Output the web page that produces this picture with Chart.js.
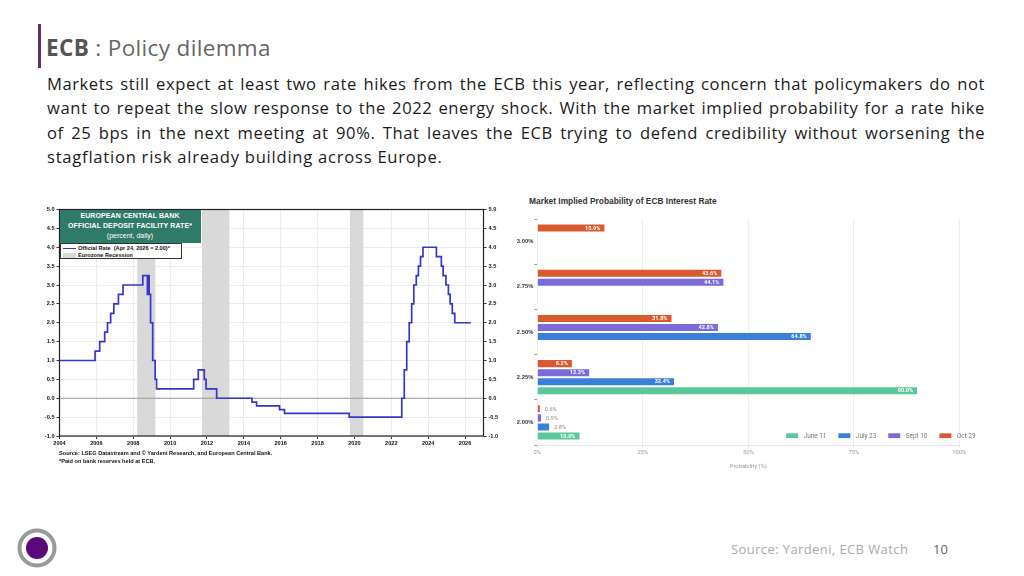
<!DOCTYPE html>
<html><head><meta charset="utf-8">
<script src="https://cdn.jsdelivr.net/npm/chart.js@4.4.1/dist/chart.umd.min.js"></script>
<style>
html,body{margin:0;padding:0;background:#fff;}
body{width:1024px;height:576px;position:relative;overflow:hidden;font-family:'Open Sans',sans-serif;}
.abs{position:absolute;}
#vbar{left:38px;top:24px;width:3px;height:44px;background:#5e2f73;}
#title{left:46px;top:33px;font-size:22.5px;letter-spacing:0.35px;color:#555;white-space:nowrap;line-height:30px;}
#title b{font-weight:700;color:#555;}
#title span{color:#666;font-weight:400;}
#para{left:47px;top:72px;width:938px;font-size:16.6px;letter-spacing:0.55px;color:#1b1b1b;line-height:24.3px;}
#para .j{text-align:justify;text-align-last:justify;}
#para .last{letter-spacing:0.75px;}
#c1wrap{left:30px;top:200px;width:470px;height:254px;}
#c2wrap{left:510px;top:190px;width:480px;height:280px;}
#ecbbox{left:59.5px;top:209.5px;width:141px;height:33px;background:#2f7a68;color:#fff;font-family:'Liberation Sans',Arial,sans-serif;font-size:7px;text-align:center;line-height:10px;padding-top:1.5px;box-sizing:border-box;}
#ecbbox b{font-weight:700;letter-spacing:0.1px;}
#ecbleg{left:60px;top:243.3px;width:122px;height:16px;background:#fff;border:1px solid #333;box-sizing:border-box;font-family:'Liberation Sans',Arial,sans-serif;font-size:5.6px;font-weight:700;color:#111;line-height:7px;padding-top:0.5px;}
#ecbleg .row{position:relative;padding-left:17px;white-space:nowrap;}
#ecbleg .ln{position:absolute;left:2px;top:3px;width:13px;height:1.5px;background:#3636c9;}
#ecbleg .bx{position:absolute;left:2px;top:1px;width:13px;height:5px;background:#d9d9d9;}
#src{left:59px;top:449px;font-family:'Liberation Sans',Arial,sans-serif;font-size:5.6px;font-weight:700;color:#111;line-height:8px;white-space:nowrap;}
#mtitle{left:529px;top:196px;font-family:'Liberation Sans',Arial,sans-serif;font-size:8.4px;font-weight:700;color:#333;white-space:nowrap;}
#footsrc{left:731px;top:539.5px;font-size:13px;letter-spacing:0.4px;color:#aaa;white-space:nowrap;}
#pgnum{left:933px;top:539.5px;font-size:13px;color:#666;}
#logo{left:17px;top:528px;width:40px;height:40px;}
</style>
</head>
<body>
<div id="vbar" class="abs"></div>
<div id="title" class="abs"><b>ECB</b><span> : Policy dilemma</span></div>
<div id="para" class="abs">
<div class="j">Markets still expect at least two rate hikes from the ECB this year, reflecting concern that policymakers do not</div>
<div class="j">want to repeat the slow response to the 2022 energy shock. With the market implied probability for a rate hike</div>
<div class="j">of 25 bps in the next meeting at 90%. That leaves the ECB trying to defend credibility without worsening the</div>
<div class="last">stagflation risk already building across Europe.</div>
</div>

<div id="c1wrap" class="abs"><canvas id="c1"></canvas></div>
<div id="ecbbox" class="abs"><b>EUROPEAN CENTRAL BANK</b><br><b>OFFICIAL DEPOSIT FACILITY RATE*</b><br>(percent, daily)</div>
<div id="ecbleg" class="abs">
<div class="row"><span class="ln"></span>Official Rate&nbsp; (Apr 24, 2026 = 2.00)*</div>
<div class="row"><span class="bx"></span>Eurozone Recession</div>
</div>
<div id="src" class="abs">Source: LSEG Datastream and © Yardeni Research, and European Central Bank.<br>*Paid on bank reserves held at ECB.</div>

<div id="mtitle" class="abs">Market Implied Probability of ECB Interest Rate</div>
<div id="c2wrap" class="abs"><canvas id="c2"></canvas></div>

<svg id="logo" class="abs" viewBox="0 0 40 40"><circle cx="20" cy="20" r="17.5" fill="none" stroke="#9a9a9a" stroke-width="4"/><circle cx="20" cy="20" r="11" fill="#5a0a78"/></svg>
<div id="footsrc" class="abs">Source: Yardeni, ECB Watch</div>
<div id="pgnum" class="abs">10</div>

<script>
// ---------- Left chart data: ECB deposit facility rate (change dates) ----------
const rateDates = ['2004-01-01','2005-12-06','2006-03-08','2006-06-15','2006-08-09','2006-10-11','2006-12-13','2007-03-14','2007-06-13','2008-07-09','2008-10-08','2008-10-09','2008-11-12','2008-12-10','2009-01-21','2009-03-11','2009-04-08','2011-04-13','2011-07-13','2011-11-09','2011-12-14','2012-07-11','2014-06-11','2014-09-10','2015-12-09','2016-03-16','2019-09-18','2022-07-27','2022-09-14','2022-11-02','2022-12-21','2023-02-08','2023-03-22','2023-05-10','2023-06-21','2023-08-02','2023-09-20','2024-06-12','2024-09-18','2024-10-23','2024-12-18','2025-02-05','2025-03-12','2025-04-23','2025-06-11','2026-04-24'];
const rateValues = [1.00,1.25,1.50,1.75,2.00,2.25,2.50,2.75,3.00,3.25,2.75,3.25,2.75,2.00,1.00,0.50,0.25,0.50,0.75,0.50,0.25,0.00,-0.10,-0.20,-0.30,-0.40,-0.50,0.00,0.75,1.50,2.00,2.50,3.00,3.25,3.50,3.75,4.00,3.75,3.50,3.25,3.00,2.75,2.50,2.25,2.00,2.00];
const recessionStarts = ['2008-03-20','2011-09-25','2019-10-05'];
const recessionEnds   = ['2009-03-15','2013-03-20','2020-06-25'];
const yearTicks = [2004,2006,2008,2010,2012,2014,2016,2018,2020,2022,2024,2026];
const rateTicks = [-1.0,-0.5,0.0,0.5,1.0,1.5,2.0,2.5,3.0,3.5,4.0,4.5,5.0];

// ---------- Right chart data: market implied probabilities ----------
const rateLevels = ['3.00%','2.75%','2.50%','2.25%','2.00%'];
const meetings = ['June 11','July 23','Sept 10','Oct 29'];
const probJune11 = [null,null,null,90.0,10.0];
const probJuly23 = [null,null,64.8,32.4,2.8];
const probSept10 = [null,44.1,42.8,12.3,0.9];
const probOct29  = [15.9,43.6,31.8,8.2,0.6];
const probTicks = [0,25,50,75,100];

const meetingColors = ['#5cc79c','#3a7fd8','#7b6ad8','#d95a2e'];

function decYear(s){
  const p = s.split('-').map(Number);
  const a = Date.UTC(p[0],0,1), b = Date.UTC(p[0]+1,0,1);
  return p[0] + (Date.UTC(p[0],p[1]-1,p[2]) - a)/(b-a);
}

const ARIAL = "'Liberation Sans', Arial, sans-serif";

const recessionPlugin = {
  id:'recession',
  beforeDatasetsDraw(chart){
    const {ctx, chartArea:a, scales:{x}} = chart;
    ctx.save();
    ctx.fillStyle = '#d9d9d9';
    recessionStarts.forEach((s,i)=>{
      const x0 = x.getPixelForValue(decYear(s)), x1 = x.getPixelForValue(decYear(recessionEnds[i]));
      ctx.fillRect(x0, a.top, x1-x0, a.bottom-a.top);
    });
    ctx.strokeStyle = '#9a9a9a'; ctx.lineWidth = 1;
    const y0 = chart.scales.y.getPixelForValue(0);
    ctx.beginPath(); ctx.moveTo(a.left,y0); ctx.lineTo(a.right,y0); ctx.stroke();
    ctx.restore();
  },
  afterDraw(chart){
    const {ctx, chartArea:a} = chart;
    ctx.save(); ctx.strokeStyle='#222'; ctx.lineWidth=1.2;
    ctx.strokeRect(a.left, a.top, a.right-a.left, a.bottom-a.top);
    ctx.restore();
  }
};

const yTickOpts = {
  font:{family:ARIAL,size:5.6,weight:'bold'}, color:'#111', padding:2,
  callback:v=>Number(v).toFixed(1), autoSkip:false
};

new Chart(document.getElementById('c1'), {
  type:'line',
  data:{datasets:[{
    label:'Official Rate',
    data: rateDates.map((d,i)=>({x:decYear(d), y:rateValues[i]})),
    stepped:true, borderColor:'#3636c9', borderWidth:1.7, pointRadius:0, fill:false
  }]},
  options:{
    responsive:true, maintainAspectRatio:false, animation:false,
    layout:{padding:{top:9.5,left:0,right:0,bottom:0}},
    plugins:{legend:{display:false}, tooltip:{enabled:false}},
    scales:{
      x:{type:'linear', min:2004, max:2027,
        afterBuildTicks:s=>{s.ticks = yearTicks.map(v=>({value:v}));},
        ticks:{font:{family:ARIAL,size:5.6,weight:'bold'}, color:'#111', padding:1, maxRotation:0, autoSkip:false, callback:v=>String(v)},
        grid:{color:'#ececec', tickLength:3, tickColor:'#333'},
        border:{display:false},
        afterFit:s=>{s.height = 18;}
      },
      y:{position:'left', min:-1, max:5,
        afterBuildTicks:s=>{s.ticks = rateTicks.map(v=>({value:v}));},
        ticks:yTickOpts,
        grid:{color:'#ececec', tickLength:3, tickColor:'#333'},
        border:{display:false},
        afterFit:s=>{s.width = 29.5;}
      },
      y2:{position:'right', min:-1, max:5,
        afterBuildTicks:s=>{s.ticks = rateTicks.map(v=>({value:v}));},
        ticks:yTickOpts,
        grid:{drawOnChartArea:false, tickLength:3, tickColor:'#333'},
        border:{display:false},
        afterFit:s=>{s.width = 16.5;}
      }
    }
  },
  plugins:[recessionPlugin]
});

// ---------- Right chart ----------
const seriesList = [probJune11, probJuly23, probSept10, probOct29];
// drawn top-to-bottom within each group: Oct 29, Sept 10, July 23, June 11
const drawOrder = [3,2,1,0];

const barLabelPlugin = {
  id:'barLabels',
  afterDatasetsDraw(chart){
    const ctx = chart.ctx;
    ctx.save();
    ctx.textBaseline = 'middle';
    chart.data.datasets.forEach((ds,di)=>{
      const meta = chart.getDatasetMeta(di);
      meta.data.forEach((el,i)=>{
        const v = ds.data[i];
        if (v === null || v === undefined) return;
        const txt = v.toFixed(1)+'%';
        if (v >= 5){
          ctx.font = "bold 5.6px 'Roboto', sans-serif";
          ctx.fillStyle = '#ffffff'; ctx.textAlign = 'right';
          ctx.fillText(txt, el.x - 4, el.y + 0.3);
        } else {
          ctx.font = "5.6px 'Roboto', sans-serif";
          ctx.fillStyle = '#8a8a8a'; ctx.textAlign = 'left';
          ctx.fillText(txt, el.x + 5, el.y + 0.3);
        }
      });
    });
    ctx.restore();
  },
  afterDraw(chart){
    const ctx = chart.ctx, a = chart.chartArea;
    ctx.save();
    ctx.font = "6.4px 'Roboto', sans-serif";
    ctx.textBaseline = 'middle'; ctx.textAlign='left';
    const boxW = 12, boxH = 4.8, gapBT = 5.5, gapItem = 12;
    const widths = meetings.map(m=>ctx.measureText(m).width);
    let total = widths.reduce((s,w)=>s+boxW+gapBT+w,0) + gapItem*(meetings.length-1);
    let x = 975.5 - 510 - total;
    const y = a.bottom - 9.3;
    meetings.forEach((m,i)=>{
      ctx.fillStyle = meetingColors[i];
      ctx.fillRect(x, y-boxH/2, boxW, boxH);
      ctx.fillStyle = '#777';
      ctx.fillText(m, x+boxW+gapBT, y+0.3);
      x += boxW+gapBT+widths[i]+gapItem;
    });
    ctx.restore();
  }
};

new Chart(document.getElementById('c2'), {
  type:'bar',
  data:{
    labels: rateLevels,
    datasets: drawOrder.map(k=>({
      label: meetings[k], data: seriesList[k],
      backgroundColor: meetingColors[k], borderWidth:0,
      categoryPercentage:0.8, barPercentage:0.78
    }))
  },
  options:{
    indexAxis:'y', responsive:true, maintainAspectRatio:false, animation:false,
    layout:{padding:{top:29,right:30.7,left:0,bottom:0}},
    plugins:{legend:{display:false}, tooltip:{enabled:false}},
    scales:{
      x:{min:0, max:100,
        afterBuildTicks:s=>{s.ticks = probTicks.map(v=>({value:v}));},
        ticks:{font:{family:"'Roboto', sans-serif",size:5.8}, color:'#9a9a9a', padding:1, callback:v=>v+'%'},
        grid:{color:'#efefef', tickLength:3, tickColor:'#e2e2e2'},
        border:{display:true,color:'#e6e6e6'},
        title:{display:true, text:'Probability (%)', font:{family:"'Roboto', sans-serif",size:5.8}, color:'#9a9a9a', padding:{top:2,bottom:0}},
        afterFit:s=>{s.height = 25;}
      },
      y:{
        ticks:{font:{family:ARIAL,size:5.8,weight:'bold'}, color:'#333', padding:1},
        grid:{drawOnChartArea:false, tickLength:3, tickColor:'#999'},
        border:{display:false},
        afterFit:s=>{s.width = 27.3;}
      }
    }
  },
  plugins:[barLabelPlugin]
});
</script>
</body></html>
